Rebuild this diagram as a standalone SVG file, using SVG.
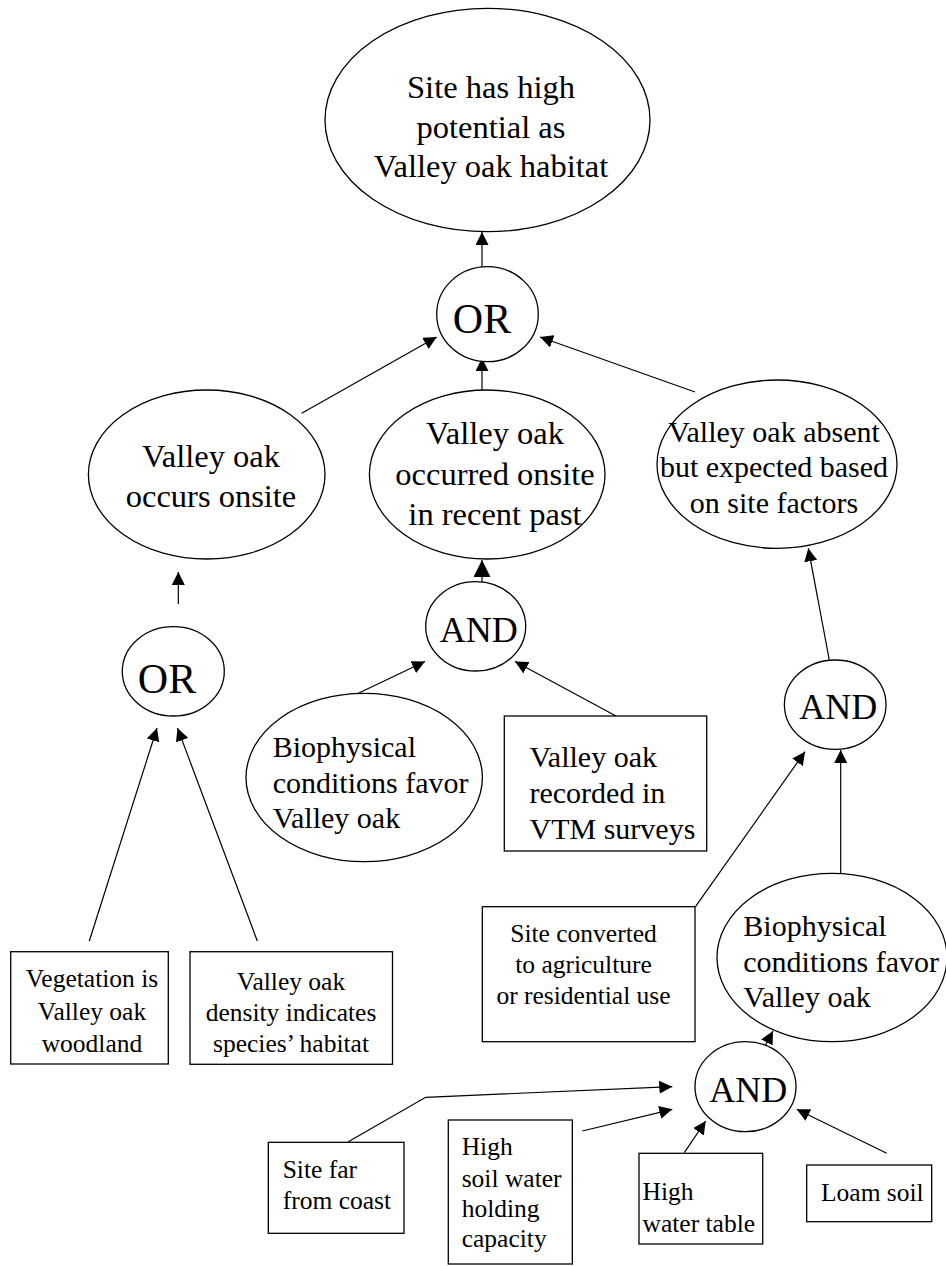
<svg xmlns="http://www.w3.org/2000/svg" width="946" height="1266" viewBox="0 0 946 1266">
<style>
  .shape { fill: #ffffff; stroke: #000000; stroke-width: 1.3; }
  .edge { fill: none; stroke: #000000; stroke-width: 1.2; marker-end: url(#arrow); }
  .edgebig { fill: none; stroke: #000000; stroke-width: 1.2; marker-end: url(#arrowBig); }
  text { font-family: "Liberation Serif", "Times New Roman", serif; fill: #000000; }
  .t33 { font-size: 32.5px; text-anchor: middle; }
  .t30 { font-size: 30px; }
  .t30c { font-size: 30px; text-anchor: middle; }
  .t26 { font-size: 25.5px; }
  .t26c { font-size: 25.5px; text-anchor: middle; }
  .gate { font-size: 36px; text-anchor: middle; }
  .gateor { font-size: 42px; text-anchor: middle; }
</style>
<defs>
  <marker id="arrow" viewBox="0 0 13 13" refX="13" refY="6.5" markerWidth="13" markerHeight="13" markerUnits="userSpaceOnUse" orient="auto">
    <path d="M0,0 L13,6.5 L0,13 z" fill="#000000"/>
  </marker>
  <marker id="arrowBig" viewBox="0 0 17 17" refX="17" refY="8.5" markerWidth="17" markerHeight="17" markerUnits="userSpaceOnUse" orient="auto">
    <path d="M0,0 L17,8.5 L0,17 z" fill="#000000"/>
  </marker>
</defs>

<g id="connectors">
  <line class="edge" x1="482" y1="267" x2="482" y2="232"/>
  <line class="edge" x1="301.7" y1="413.3" x2="436.7" y2="337"/>
  <line class="edge" x1="482" y1="390" x2="482" y2="358"/>
  <line class="edge" x1="695" y1="392" x2="540" y2="337"/>
  <line class="edge" x1="178.3" y1="604" x2="178.3" y2="572"/>
  <line class="edge" x1="89.3" y1="941" x2="157" y2="728"/>
  <line class="edge" x1="257.3" y1="941" x2="177.5" y2="728"/>
  <line class="edgebig" x1="482" y1="582" x2="482" y2="560"/>
  <line class="edge" x1="358.3" y1="693.3" x2="425" y2="661.5"/>
  <line class="edge" x1="616" y1="716" x2="515" y2="661.5"/>
  <line class="edge" x1="829.3" y1="660" x2="808.3" y2="548.3"/>
  <line class="edge" x1="695.5" y1="906.7" x2="805" y2="751.7"/>
  <line class="edge" x1="840.7" y1="873.3" x2="840.7" y2="750"/>
  <line class="edge" x1="765" y1="1046" x2="773" y2="1031"/>
  <polyline class="edge" points="348.3,1141.7 425.7,1097.3 672.3,1086.7"/>
  <line class="edge" x1="582.3" y1="1131" x2="672.3" y2="1109.3"/>
  <line class="edge" x1="684.3" y1="1152.7" x2="705.7" y2="1121"/>
  <line class="edge" x1="886.7" y1="1153.3" x2="796.7" y2="1109.3"/>
</g>

<g id="goal">
  <ellipse class="shape" cx="487.5" cy="120" rx="162.5" ry="111.7"/>
  <text class="t33" x="491" y="97.5">Site has high</text>
  <text class="t33" x="491" y="137.5">potential as</text>
  <text class="t33" x="491" y="177">Valley oak habitat</text>
</g>

<g id="or-top">
  <ellipse class="shape" cx="487.5" cy="314.2" rx="50.8" ry="47.5"/>
  <text class="gateor" x="482" y="333.3">OR</text>
</g>

<g id="occurs-onsite">
  <ellipse class="shape" cx="206.7" cy="474.5" rx="118.3" ry="84.5"/>
  <text class="t33" x="211" y="467">Valley oak</text>
  <text class="t33" x="211" y="507">occurs onsite</text>
</g>

<g id="occurred-recent">
  <ellipse class="shape" cx="487.2" cy="474.5" rx="117.8" ry="84.5"/>
  <text class="t33" x="495" y="444.3">Valley oak</text>
  <text class="t33" x="495" y="484.5">occurred onsite</text>
  <text class="t33" x="495" y="525">in recent past</text>
</g>

<g id="absent-expected">
  <ellipse class="shape" cx="777" cy="464.2" rx="120" ry="84.2"/>
  <text class="t30c" x="774" y="441.7">Valley oak absent</text>
  <text class="t30c" x="774" y="477">but expected based</text>
  <text class="t30c" x="774" y="513">on site factors</text>
</g>

<g id="or-left">
  <ellipse class="shape" cx="173.3" cy="671.3" rx="51" ry="44.7"/>
  <text class="gateor" x="167" y="693.3">OR</text>
</g>

<g id="and-middle">
  <ellipse class="shape" cx="475.7" cy="626.3" rx="50" ry="44.7"/>
  <text class="gate" x="478.8" y="641.7">AND</text>
</g>

<g id="and-right">
  <ellipse class="shape" cx="835.2" cy="704.7" rx="50.8" ry="44.7"/>
  <text class="gate" x="838.3" y="719.3">AND</text>
</g>

<g id="biophysical-middle">
  <ellipse class="shape" cx="364.2" cy="777.5" rx="118.2" ry="84.2"/>
  <text class="t30" x="272.7" y="756.7">Biophysical</text>
  <text class="t30" x="272.7" y="792.7">conditions favor</text>
  <text class="t30" x="272.7" y="828.3">Valley oak</text>
</g>

<g id="vtm-surveys">
  <rect class="shape" x="504.3" y="716" width="202.4" height="135"/>
  <text class="t30" x="529.5" y="766.7">Valley oak</text>
  <text class="t30" x="529.5" y="802.7">recorded in</text>
  <text class="t30" x="529.5" y="839.3">VTM surveys</text>
</g>

<g id="vegetation-woodland">
  <rect class="shape" x="10.7" y="951.7" width="157.6" height="112.3"/>
  <text class="t26c" x="92" y="987">Vegetation is</text>
  <text class="t26c" x="92" y="1019.5">Valley oak</text>
  <text class="t26c" x="92" y="1051.5">woodland</text>
</g>

<g id="density-habitat">
  <rect class="shape" x="190" y="951.7" width="202.5" height="112.6"/>
  <text class="t26c" x="291" y="989.5">Valley oak</text>
  <text class="t26c" x="291" y="1021">density indicates</text>
  <text class="t26c" x="291" y="1051.7">species’ habitat</text>
</g>

<g id="site-converted">
  <rect class="shape" x="482.3" y="906.7" width="212.7" height="135"/>
  <text class="t26c" x="583.5" y="942">Site converted</text>
  <text class="t26c" x="583.5" y="973">to agriculture</text>
  <text class="t26c" x="583.5" y="1004">or residential use</text>
</g>

<g id="biophysical-lower">
  <ellipse class="shape" cx="832" cy="957.5" rx="115" ry="84.2"/>
  <text class="t30" x="743.3" y="936">Biophysical</text>
  <text class="t30" x="743.3" y="971.5">conditions favor</text>
  <text class="t30" x="743.3" y="1007">Valley oak</text>
</g>

<g id="and-lower">
  <ellipse class="shape" cx="745.5" cy="1086.7" rx="50.5" ry="45"/>
  <text class="gate" x="748.3" y="1101.7">AND</text>
</g>

<g id="site-far">
  <rect class="shape" x="268.3" y="1142.3" width="135.7" height="91"/>
  <text class="t26" x="282.7" y="1178.3">Site far</text>
  <text class="t26" x="282.7" y="1209.3">from coast</text>
</g>

<g id="soil-water">
  <rect class="shape" x="448.3" y="1120" width="124" height="144"/>
  <text class="t26" x="461.7" y="1155">High</text>
  <text class="t26" x="461.7" y="1186.7">soil water</text>
  <text class="t26" x="461.7" y="1217.3">holding</text>
  <text class="t26" x="461.7" y="1247.3">capacity</text>
</g>

<g id="water-table">
  <rect class="shape" x="639" y="1153.3" width="123.7" height="90.7"/>
  <text class="t26" x="642.5" y="1200">High</text>
  <text class="t26" x="642.5" y="1231.7">water table</text>
</g>

<g id="loam-soil">
  <rect class="shape" x="806.7" y="1165" width="125" height="56.7"/>
  <text class="t26" x="821" y="1200.7">Loam soil</text>
</g>
</svg>
